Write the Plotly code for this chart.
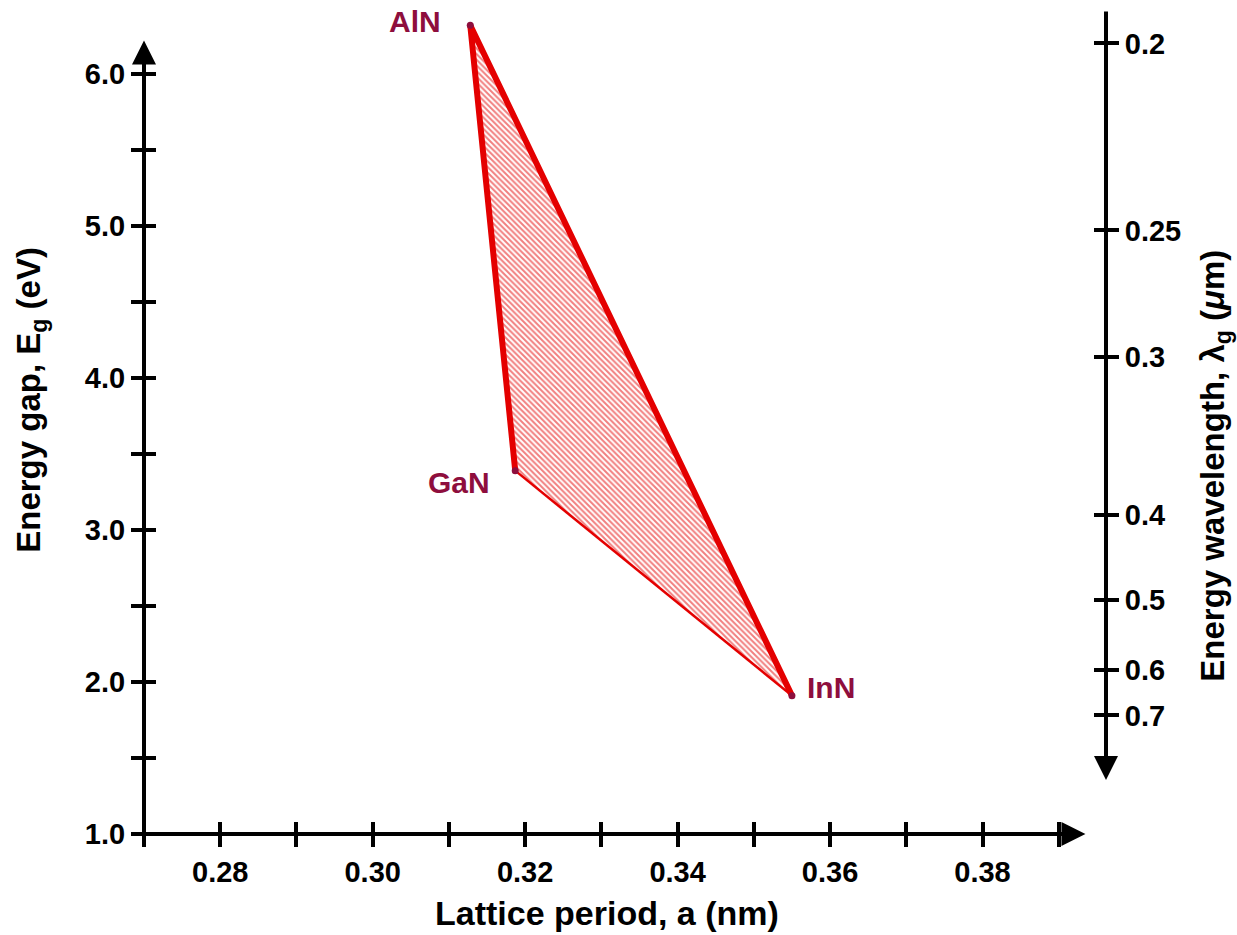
import plotly.graph_objects as go

# ---- data ----
materials = ["AlN", "GaN", "InN"]
lattice_nm = [0.3128, 0.3187, 0.3550]
gap_eV = [6.32, 3.39, 1.91]

x_ticks = [0.27, 0.28, 0.29, 0.30, 0.31, 0.32, 0.33, 0.34, 0.35, 0.36, 0.37, 0.38, 0.39]
x_labels = ["", "0.28", "", "0.30", "", "0.32", "", "0.34", "", "0.36", "", "0.38", ""]
y_ticks = [1.0, 1.5, 2.0, 2.5, 3.0, 3.5, 4.0, 4.5, 5.0, 5.5, 6.0]
y_labels = ["1.0", "", "2.0", "", "3.0", "", "4.0", "", "5.0", "", "6.0"]
wl_labels = ["0.2", "0.25", "0.3", "0.4", "0.5", "0.6", "0.7"]
wl_energy_pos = [6.20, 4.97, 4.14, 3.10, 2.54, 2.08, 1.78]

X_RANGE = [0.27, 0.3962]
Y_RANGE = [1.0, 6.42]

RED = "rgb(228,0,0)"
LABEL = "#8E0E3D"
FONT = "Liberation Sans"

fig = go.Figure()

# filled alloy region
fig.add_trace(go.Scatter(
    x=lattice_nm + [lattice_nm[0]], y=gap_eV + [gap_eV[0]],
    mode="lines", fill="toself", line=dict(width=0, color=RED),
    fillcolor="rgba(255,255,255,0)",
    fillpattern=dict(shape="\\", fgcolor=RED, bgcolor="white", size=4, solidity=0.5),
    hoverinfo="skip", showlegend=False))

# thick edges GaN-AlN-InN
idx_thick = [1, 0, 2]
fig.add_trace(go.Scatter(
    x=[lattice_nm[i] for i in idx_thick], y=[gap_eV[i] for i in idx_thick],
    mode="lines", line=dict(width=6, color=RED), showlegend=False, hoverinfo="skip"))
# thin edge GaN-InN
idx_thin = [1, 2]
fig.add_trace(go.Scatter(
    x=[lattice_nm[i] for i in idx_thin], y=[gap_eV[i] for i in idx_thin],
    mode="lines", line=dict(width=2.5, color=RED), showlegend=False, hoverinfo="skip"))
# vertex dots
fig.add_trace(go.Scatter(
    x=lattice_nm, y=gap_eV, mode="markers",
    marker=dict(size=7, color=LABEL), showlegend=False, hoverinfo="skip"))

# dummy traces to activate overlay axes
fig.add_trace(go.Scatter(x=[None], y=[None], xaxis="x2", yaxis="y", showlegend=False, hoverinfo="skip"))
fig.add_trace(go.Scatter(x=[None], y=[None], xaxis="x", yaxis="y2", showlegend=False, hoverinfo="skip"))
fig.add_trace(go.Scatter(x=[None], y=[None], xaxis="x", yaxis="y3", showlegend=False, hoverinfo="skip"))
fig.add_trace(go.Scatter(x=[None], y=[None], xaxis="x", yaxis="y4", showlegend=False, hoverinfo="skip"))

tickfont = dict(family=FONT, size=29, color="black", weight="bold")
common = dict(showgrid=False, zeroline=False, showline=False, tickwidth=4, ticklen=12,
              tickcolor="black", tickfont=tickfont)

fig.update_layout(
    width=1237, height=935,
    margin=dict(l=144, r=131, t=10, b=101),
    plot_bgcolor="white", paper_bgcolor="white",
    xaxis=dict(range=X_RANGE, tickmode="array", tickvals=x_ticks, ticktext=x_labels,
               ticks="outside", **common),
    xaxis2=dict(range=X_RANGE, overlaying="x", anchor="y", side="bottom", tickmode="array",
                tickvals=x_ticks, ticks="inside", showticklabels=False, **common),
    yaxis=dict(range=Y_RANGE, tickmode="array", tickvals=y_ticks, ticktext=y_labels,
               ticks="outside", **common),
    yaxis3=dict(range=Y_RANGE, overlaying="y", anchor="x", side="left", tickmode="array",
                tickvals=y_ticks, ticks="inside", showticklabels=False, **common),
    yaxis2=dict(range=Y_RANGE, overlaying="y", anchor="x", side="right", tickmode="array",
                tickvals=wl_energy_pos, ticktext=wl_labels, ticks="outside", **common),
    yaxis4=dict(range=Y_RANGE, overlaying="y", anchor="x", side="right", tickmode="array",
                tickvals=wl_energy_pos, ticks="inside", showticklabels=False, **common),
    showlegend=False,
)

# axis lines with arrows
arrow = dict(showarrow=True, arrowhead=2, arrowwidth=4, arrowsize=1.2, arrowcolor="black",
             text="", xref="x", yref="y", axref="x", ayref="y")
fig.add_annotation(x=0.3935, y=Y_RANGE[0], ax=X_RANGE[0], ay=Y_RANGE[0], **arrow)
fig.add_annotation(x=X_RANGE[0], y=6.22, ax=X_RANGE[0], ay=0.93, **arrow)
fig.add_annotation(x=X_RANGE[1], y=1.355, ax=X_RANGE[1], ay=Y_RANGE[1], **arrow)

# material labels
lab_font = dict(family=FONT, size=30, color=LABEL, weight="bold")
offsets = {"AlN": (-27, 4, "right"), "GaN": (-23, -12, "right"), "InN": (13, 8, "left")}
for m, xv, yv in zip(materials, lattice_nm, gap_eV):
    dx, dy, anc = offsets[m]
    fig.add_annotation(x=xv, y=yv, text=m, showarrow=False, xanchor=anc, yanchor="middle",
                       xshift=dx, yshift=dy, font=lab_font)

# axis titles
title_font = dict(family=FONT, size=33, color="black", weight="bold")
fig.add_annotation(xref="paper", yref="paper", x=0.481, y=0, yshift=-79, text="Lattice period, a (nm)",
                   showarrow=False, xanchor="center", yanchor="middle",
                   font=dict(family=FONT, size=34, color="black", weight="bold"))
fig.add_annotation(xref="paper", yref="paper", x=0, y=0.527, xshift=-113, text="Energy gap, E<sub>g</sub> (eV)",
                   showarrow=False, xanchor="center", yanchor="middle", textangle=-90, font=title_font)
fig.add_annotation(xref="paper", yref="paper", x=1, y=0.447, xshift=109,
                   text="Energy wavelength, λ<sub>g</sub> (<i>μ</i>m)",
                   showarrow=False, xanchor="center", yanchor="middle", textangle=-90,
                   font=title_font)

fig.write_html("out.html")
